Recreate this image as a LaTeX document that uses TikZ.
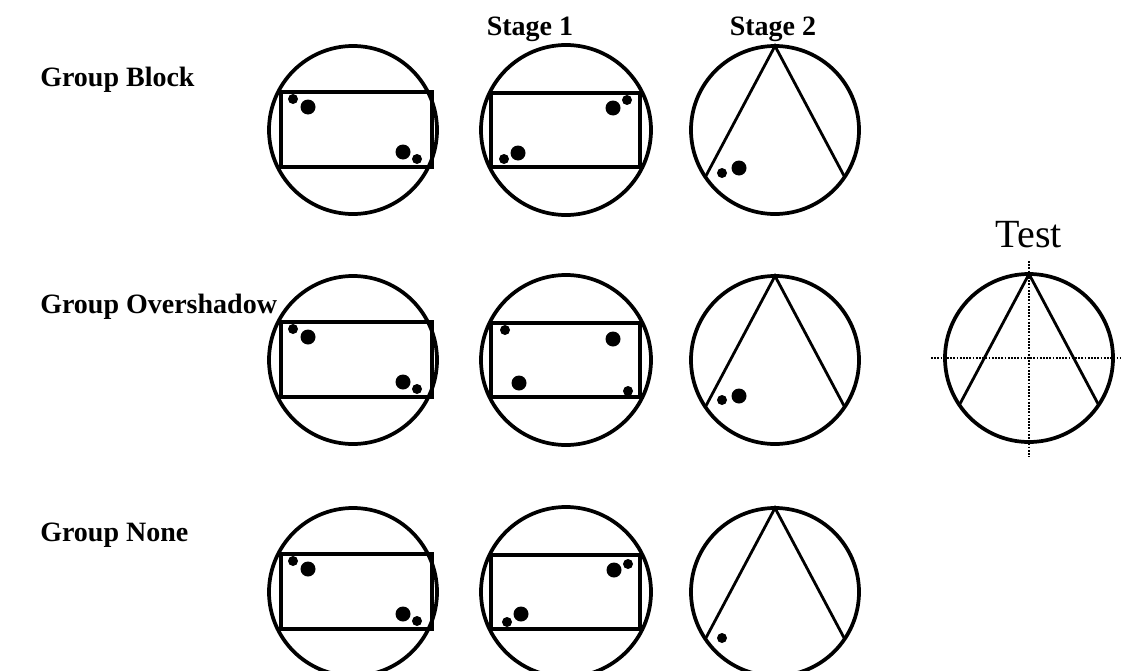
\documentclass[tikz,border=0pt]{standalone}
\usepackage{fontspec}
\setmainfont{Liberation Serif}
\begin{document}
\begin{tikzpicture}[x=0.75pt,y=-0.75pt,
  ring/.style={line width=2.8pt},
  box/.style={line width=2.5pt},
  cone/.style={line width=2.1pt},
  guide/.style={line width=1.4pt, densely dotted},
  lab/.style={font=\bfseries\fontsize{21}{25}\selectfont, inner sep=0pt},
  testlab/.style={font=\fontsize{30}{36}\selectfont, inner sep=0pt}]
\useasboundingbox (0,0) rectangle (1121,671);

% labels
\node[lab, anchor=base] (s1) at (530,36) {Stage 1};
\node[lab, anchor=base] (s2) at (773,36) {Stage 2};
\node[lab, anchor=base west] (g1) at (40,86) {Group Block};
\node[lab, anchor=base west] (g2) at (40,313) {Group Overshadow};
\node[lab, anchor=base west] (g3) at (40,541) {Group None};
\node[testlab, anchor=base] (t) at (1029,247) {Test};

% circles
\foreach \y/\r in {130/1,360/2,592/3}{
  \coordinate (a\r) at (353,\y);
  \coordinate (b\r) at (566,\y);
  \coordinate (c\r) at (775,\y);
  \draw[ring] (a\r) circle (84);
  \draw[ring] (b\r) circle (85);
  \draw[ring] (c\r) circle (84);
  \draw[box] ([shift={(-72,-38)}]a\r) rectangle ([shift={(79,37)}]a\r);
  \draw[box] ([shift={(-75,-37)}]b\r) rectangle ([shift={(74,37)}]b\r);
  \draw[cone] ([shift={(146:84)}]c\r) -- ([shift={(90:-84)}]c\r) -- ([shift={(34:84)}]c\r);
}
% stage 1 first circles: dots top-left and bottom-right
\foreach \r in {1,2,3}{
  \fill ([shift={(-60,-31)}]a\r) circle (5);
  \fill ([shift={(-45,-23)}]a\r) circle (7.5);
  \fill ([shift={(50,22)}]a\r) circle (7.5);
  \fill ([shift={(64,29)}]a\r) circle (5);
}
% row 1 second circle
\fill ([shift={(-62,29)}]b1) circle (5);
\fill ([shift={(-48,23)}]b1) circle (7.5);
\fill ([shift={(47,-22)}]b1) circle (7.5);
\fill ([shift={(61,-30)}]b1) circle (5);
% row 2 second circle
\fill ([shift={(-61,-30)}]b2) circle (5);
\fill ([shift={(47,-21)}]b2) circle (7.5);
\fill ([shift={(-47,23)}]b2) circle (7.5);
\fill ([shift={(62,31)}]b2) circle (5);
% row 3 second circle
\fill ([shift={(-59,30)}]b3) circle (5);
\fill ([shift={(-45,22)}]b3) circle (7.5);
\fill ([shift={(48,-22)}]b3) circle (7.5);
\fill ([shift={(62,-28)}]b3) circle (5);
% stage 2 dots
\fill ([shift={(-53,43)}]c1) circle (5);
\fill ([shift={(-36,38)}]c1) circle (7.5);
\fill ([shift={(-53,40)}]c2) circle (5);
\fill ([shift={(-36,36)}]c2) circle (7.5);
\fill ([shift={(-53,46)}]c3) circle (5);

% test circle
\coordinate (tc) at (1029,358);
\coordinate (vt) at (1029,261);
\coordinate (vb) at (1029,457);
\coordinate (hl) at (931,358);
\coordinate (hr) at (1121,358);
\draw[guide] (vt) -- (vb);
\draw[guide] (hl) -- (hr);
\draw[ring] (tc) circle (84);
\draw[cone] ([shift={(146:84)}]tc) -- ([shift={(90:-84)}]tc) -- ([shift={(34:84)}]tc);
\end{tikzpicture}
\end{document}
